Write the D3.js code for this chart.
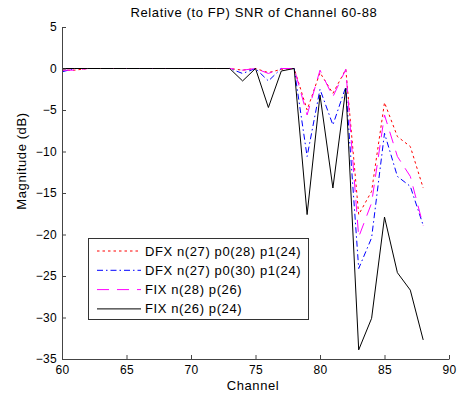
<!DOCTYPE html>
<html>
<head>
<meta charset="utf-8">
<script src="https://cdn.jsdelivr.net/npm/d3@7"></script>
<style>
  body { margin: 0; background: #fff; }
  text { font-family: "Liberation Sans", Arial, sans-serif; }
  .lbl { font-size: 13px; letter-spacing: 0.6px; }
</style>
</head>
<body>
<svg id="chart"></svg>
<script>
let channels = d3.range(60, 89);

let dfx1 = [-0.2, -0.2, 0, 0, 0, 0, 0, 0, 0, 0, 0, 0, 0, 0,
    -0.2, 0, -0.5, -0.1, 0, -5.0, -0.5, -3.0, -0.1, -17.6, -14.8, -4.1, -8.2, -9.4, -14.4];
let dfx2 = [-0.4, 0, 0, 0, 0, 0, 0, 0, 0, 0, 0, 0, 0, 0,
    -0.6, 0, -1.5, 0, 0, -10.6, -2.5, -6.8, -2.2, -24.1, -20.4, -7.8, -13.0, -14.2, -18.9];
let fix1 = [-0.2, -0.2, 0, 0, 0, 0, 0, 0, 0, 0, 0, 0, 0, 0,
    -0.2, 0, -0.6, 0, 0, -5.6, -0.2, -3.4, -0.1, -20.3, -16.2, -5.6, -10.6, -13.0, -18.9];
let fix2 = [0, 0, 0, 0, 0, 0, 0, 0, 0, 0, 0, 0, 0, 0,
    -1.5, 0, -4.7, -0.3, 0, -17.6, -3.2, -14.4, -2.4, -33.9, -30.1, -17.9, -24.6, -26.7, -32.7];

let seriesNames = ["DFX n(27) p0(28) p1(24)", "DFX n(27) p0(30) p1(24)", "FIX n(28) p(26)", "FIX n(26) p(24)"];
let xTicks = [60, 65, 70, 75, 80, 85, 90];
let yTicks = [5, 0, -5, -10, -15, -20, -25, -30, -35];

function createChart() {
    let w = 460, h = 401;
    let svg = d3.select("#chart").attr("width", w).attr("height", h);

    let x = d3.scaleLinear().domain([60, 90]).range([62, 449]);
    let y = d3.scaleLinear().domain([-35, 5]).range([359, 27]);

    let styles = [
        { color: "#ff0000", dash: "2.5,3" },
        { color: "#0000ff", dash: "6,3,1.5,3" },
        { color: "#ff00ff", dash: "12,8" },
        { color: "#000000", dash: null }
    ];
    let data = [dfx1, dfx2, fix1, fix2];

    let line = d3.line()
        .x((d, i) => x(channels[i]))
        .y(d => y(d));

    svg.selectAll("path.series")
        .data(data)
        .enter()
        .append("path")
        .attr("class", "series")
        .attr("fill", "none")
        .attr("stroke", (d, i) => styles[i].color)
        .attr("stroke-width", 1)
        .attr("stroke-dasharray", (d, i) => styles[i].dash)
        .attr("d", line);

    // axes, ticks pointing inward like matlab
    let xAxis = svg.append("g")
        .attr("transform", "translate(0,359)")
        .call(d3.axisBottom(x).tickValues(xTicks).tickSize(-4).tickSizeOuter(0).tickPadding(6));
    let yAxis = svg.append("g")
        .attr("transform", "translate(62,0)")
        .call(d3.axisLeft(y).tickValues(yTicks).tickSize(-4).tickSizeOuter(0).tickPadding(5));

    [xAxis, yAxis].forEach(a => {
        a.select(".domain").attr("stroke", "#444");
        a.selectAll(".tick line").attr("stroke", "#444");
        a.selectAll("text").attr("fill", "#000").style("font-size", "12px")
            .style("letter-spacing", "0.3px")
            .style("font-family", "'Liberation Sans', Arial, sans-serif");
    });

    svg.append("text")
        .attr("class", "lbl")
        .attr("x", 254).attr("y", 17)
        .attr("text-anchor", "middle")
        .text("Relative (to FP) SNR of Channel 60-88");

    svg.append("text")
        .attr("class", "lbl")
        .attr("x", 253).attr("y", 390)
        .attr("text-anchor", "middle")
        .text("Channel");

    svg.append("text")
        .attr("class", "lbl")
        .attr("transform", "translate(26,161) rotate(-90)")
        .attr("text-anchor", "middle")
        .text("Magnitude (dB)");

    // legend
    let lg = svg.append("g");
    lg.append("rect")
        .attr("x", 88.5).attr("y", 238.5)
        .attr("width", 220).attr("height", 81)
        .attr("fill", "#fff").attr("stroke", "#333");

    let rows = lg.selectAll("g.row")
        .data(seriesNames)
        .enter()
        .append("g")
        .attr("class", "row")
        .attr("transform", (d, i) => "translate(0," + (251 + i * 19.3) + ")");

    rows.append("line")
        .attr("x1", 97).attr("x2", 141)
        .attr("stroke", (d, i) => styles[i].color)
        .attr("stroke-dasharray", (d, i) => styles[i].dash);

    rows.append("text")
        .attr("class", "lbl")
        .attr("x", 145).attr("y", 4.5)
        .text(d => d);
}

window.onload = function() {
    createChart();
}
</script>
</body>
</html>
